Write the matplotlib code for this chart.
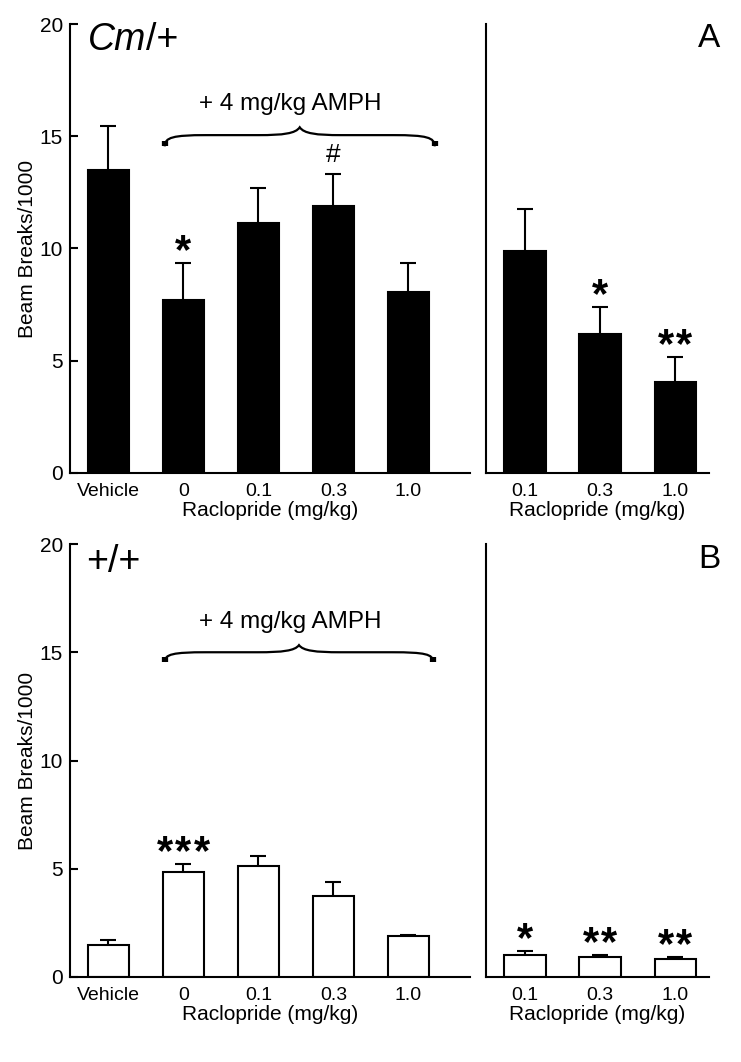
import matplotlib
matplotlib.use('Agg')
import matplotlib.pyplot as plt
from matplotlib.path import Path
import matplotlib.patches as patches

plt.rcParams['font.family'] = ['Liberation Sans', 'DejaVu Sans']

# data (beam breaks / 1000)
left_labels = ['Vehicle', '0', '0.1', '0.3', '1.0']
right_labels = ['0.1', '0.3', '1.0']

cm_left = [13.5, 7.7, 11.15, 11.9, 8.05]
cm_left_err = [1.95, 1.65, 1.55, 1.4, 1.3]
cm_left_marks = ['', '*', '', '#', '']
cm_right = [9.9, 6.2, 4.07]
cm_right_err = [1.85, 1.2, 1.1]
cm_right_marks = ['', '*', '**']

wt_left = [1.5, 4.85, 5.12, 3.73, 1.88]
wt_left_err = [0.2, 0.36, 0.46, 0.65, 0.08]
wt_left_marks = ['', '***', '', '', '']
wt_right = [1.0, 0.92, 0.82]
wt_right_err = [0.2, 0.1, 0.1]
wt_right_marks = ['*', '**', '**']

BAR_W = 0.55


def draw_bars(ax, vals, errs, marks, color, labels):
    x = list(range(len(vals)))
    ax.bar(x, vals, width=BAR_W, color=color, edgecolor='black', linewidth=1.5, zorder=2)
    eb = ax.errorbar(x, vals, yerr=[[0] * len(vals), errs], fmt='none', ecolor='black',
                     elinewidth=1.5, capsize=6, capthick=1.5, zorder=3)
    eb[1][0].set_visible(False)
    for xi, v, e, m in zip(x, vals, errs, marks):
        if not m:
            continue
        if m == '#':
            ax.annotate(m, (xi, v + e), xytext=(0, 5), textcoords='offset points',
                        ha='center', va='bottom', fontsize=19)
            continue
        n = len(m)
        for k in range(n):
            dx = (k - (n - 1) / 2) * 13
            ax.annotate('*', (xi, v + e), xytext=(dx, 0), textcoords='offset points',
                        ha='center', va='baseline', fontsize=30, fontweight='bold')
    ax.set_xticks(x)
    ax.set_xticklabels(labels)
    ax.set_ylim(0, 20)
    for s in ['top', 'right']:
        ax.spines[s].set_visible(False)
    for s in ['left', 'bottom']:
        ax.spines[s].set_linewidth(1.5)
    ax.tick_params(axis='x', length=0, pad=7, labelsize=14)
    ax.set_xlabel('Raclopride (mg/kg)', fontsize=15, labelpad=1)


def draw_brace(ax, x0, x1, y, drop, rise, r):
    xm = (x0 + x1) / 2
    verts = [(x0, y - drop), (x0, y - drop * 0.2), (x0 + r * 0.2, y), (x0 + r, y),
             (xm - r, y),
             (xm - r * 0.4, y), (xm - r * 0.1, y + rise * 0.2), (xm, y + rise),
             (xm + r * 0.1, y + rise * 0.2), (xm + r * 0.4, y), (xm + r, y),
             (x1 - r, y),
             (x1 - r * 0.2, y), (x1, y - drop * 0.2), (x1, y - drop)]
    codes = [Path.MOVETO, Path.CURVE4, Path.CURVE4, Path.CURVE4,
             Path.LINETO,
             Path.CURVE4, Path.CURVE4, Path.CURVE4,
             Path.CURVE4, Path.CURVE4, Path.CURVE4,
             Path.LINETO,
             Path.CURVE4, Path.CURVE4, Path.CURVE4]
    ax.add_patch(patches.PathPatch(Path(verts, codes), facecolor='none', edgecolor='black',
                                   lw=1.6, capstyle='butt', clip_on=False))
    # heavier ends of the brace
    ax.plot([x0, x0], [y - drop, y - drop * 0.5], color='black', lw=4.5,
            solid_capstyle='butt')
    ax.plot([x1, x1], [y - drop, y - drop * 0.5], color='black', lw=4.5,
            solid_capstyle='butt')
    ax.text(xm - 0.12, y + 0.9, '+ 4 mg/kg AMPH', ha='center', va='bottom', fontsize=17.5)


def setup_left(ax):
    ax.set_xlim(-0.513, 4.82)
    ax.set_yticks([0, 5, 10, 15, 20])
    ax.tick_params(axis='y', direction='in', length=6, width=1.5, pad=5, labelsize=15)
    ax.set_ylabel('Beam Breaks/1000', fontsize=15, labelpad=2)


def setup_right(ax):
    ax.set_xlim(-0.52, 2.45)
    ax.set_yticks([])


fig = plt.figure(figsize=(7.41, 10.62), dpi=100)
W, H = 741, 1062

def add_ax(x0, x1, ytop, ybot):
    return fig.add_axes([x0 / W, 1 - ybot / H, (x1 - x0) / W, (ybot - ytop) / H])

ax_a1 = add_ax(70, 470, 24, 473)
ax_a2 = add_ax(486, 709, 24, 473)
ax_b1 = add_ax(70, 470, 544, 977)
ax_b2 = add_ax(486, 709, 544, 977)

draw_bars(ax_a1, cm_left, cm_left_err, cm_left_marks, 'black', left_labels)
setup_left(ax_a1)
draw_bars(ax_a2, cm_right, cm_right_err, cm_right_marks, 'black', right_labels)
setup_right(ax_a2)
draw_bars(ax_b1, wt_left, wt_left_err, wt_left_marks, 'white', left_labels)
setup_left(ax_b1)
draw_bars(ax_b2, wt_right, wt_right_err, wt_right_marks, 'white', right_labels)
setup_right(ax_b2)

draw_brace(ax_a1, 0.75, 4.35, 15.05, 0.5, 0.35, 0.55)
draw_brace(ax_b1, 0.75, 4.33, 15.0, 0.45, 0.33, 0.55)

# genotype labels
t = ax_a1.text(0.045, 0.965, 'Cm', transform=ax_a1.transAxes, style='italic',
               fontsize=27, ha='left', va='center')
ax_a1.annotate('/+', xy=(1, 0), xycoords=t, va='bottom', fontsize=27)
ax_b1.text(0.04, 0.958, '+/+', transform=ax_b1.transAxes, fontsize=27,
           ha='left', va='center')

ax_a2.text(1.0, 0.967, 'A', transform=ax_a2.transAxes, fontsize=24, ha='center', va='center')
ax_b2.text(1.0, 0.965, 'B', transform=ax_b2.transAxes, fontsize=24, ha='center', va='center')

fig.savefig('out.png', dpi=100)
